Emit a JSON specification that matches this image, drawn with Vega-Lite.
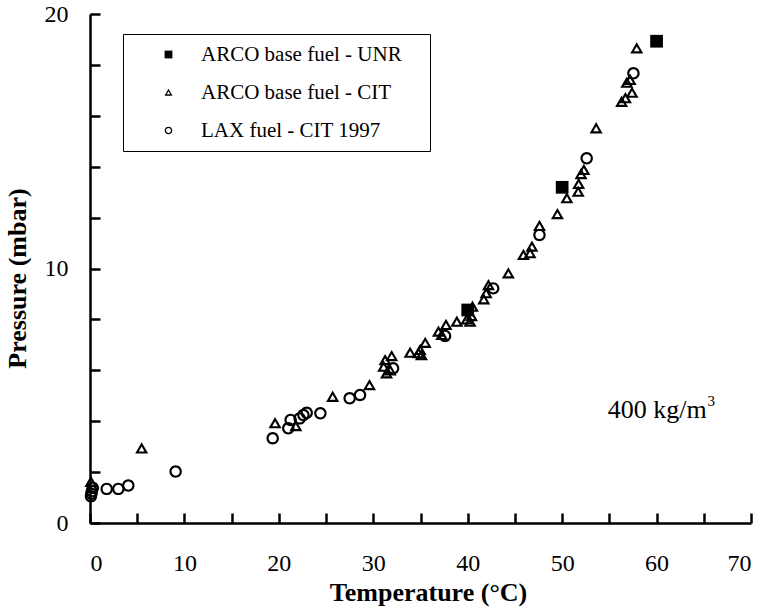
{
  "$schema": "https://vega.github.io/schema/vega-lite/v6.json",
  "width": 661,
  "height": 509,
  "autosize": "none",
  "padding": {"left": 90, "top": 14, "right": 14, "bottom": 88},
  "background": "white",
  "config": {
    "view": {"stroke": null},
    "font": "Liberation Serif",
    "axis": {
      "grid": false,
      "domainColor": "black",
      "domainWidth": 2.5,
      "tickColor": "black",
      "tickWidth": 2.5,
      "tickSize": -10,
      "labelFont": "Liberation Serif",
      "labelFontSize": 24,
      "labelColor": "black",
      "titleFont": "Liberation Serif",
      "titleFontSize": 26,
      "titleFontWeight": "bold",
      "titleColor": "black"
    },
    "legend": {
      "labelFont": "Liberation Serif",
      "labelFontSize": 21,
      "labelColor": "black",
      "labelLimit": 400,
      "padding": 10,
      "strokeColor": "black",
      "fillColor": "white",
      "labelOffset": 22,
      "symbolOffset": 25,
      "symbolSize": 75,
      "symbolFillColor": "black",
      "symbolStrokeWidth": 0,
      "rowPadding": 16
    }
  },
  "layer": [
    {
      "data": {
        "values": [
          {"T": 40.0, "P": 8.37, "series": "ARCO base fuel - UNR"},
          {"T": 50.0, "P": 13.19, "series": "ARCO base fuel - UNR"},
          {"T": 60.0, "P": 18.93, "series": "ARCO base fuel - UNR"},
          {"T": 0.1, "P": 1.62, "series": "ARCO base fuel - CIT"},
          {"T": 5.47, "P": 2.93, "series": "ARCO base fuel - CIT"},
          {"T": 19.6, "P": 3.92, "series": "ARCO base fuel - CIT"},
          {"T": 21.8, "P": 3.81, "series": "ARCO base fuel - CIT"},
          {"T": 25.7, "P": 4.96, "series": "ARCO base fuel - CIT"},
          {"T": 29.6, "P": 5.42, "series": "ARCO base fuel - CIT"},
          {"T": 31.95, "P": 6.56, "series": "ARCO base fuel - CIT"},
          {"T": 31.25, "P": 6.4, "series": "ARCO base fuel - CIT"},
          {"T": 31.1, "P": 6.14, "series": "ARCO base fuel - CIT"},
          {"T": 31.4, "P": 5.88, "series": "ARCO base fuel - CIT"},
          {"T": 31.8, "P": 6.0, "series": "ARCO base fuel - CIT"},
          {"T": 33.9, "P": 6.69, "series": "ARCO base fuel - CIT"},
          {"T": 34.96, "P": 6.8, "series": "ARCO base fuel - CIT"},
          {"T": 35.5, "P": 7.08, "series": "ARCO base fuel - CIT"},
          {"T": 35.1, "P": 6.6, "series": "ARCO base fuel - CIT"},
          {"T": 34.8, "P": 6.67, "series": "ARCO base fuel - CIT"},
          {"T": 36.9, "P": 7.52, "series": "ARCO base fuel - CIT"},
          {"T": 37.7, "P": 7.78, "series": "ARCO base fuel - CIT"},
          {"T": 37.25, "P": 7.39, "series": "ARCO base fuel - CIT"},
          {"T": 38.85, "P": 7.91, "series": "ARCO base fuel - CIT"},
          {"T": 39.9, "P": 8.0, "series": "ARCO base fuel - CIT"},
          {"T": 40.5, "P": 8.5, "series": "ARCO base fuel - CIT"},
          {"T": 40.4, "P": 8.13, "series": "ARCO base fuel - CIT"},
          {"T": 40.25, "P": 7.91, "series": "ARCO base fuel - CIT"},
          {"T": 41.7, "P": 8.79, "series": "ARCO base fuel - CIT"},
          {"T": 41.95, "P": 9.03, "series": "ARCO base fuel - CIT"},
          {"T": 42.2, "P": 9.35, "series": "ARCO base fuel - CIT"},
          {"T": 44.3, "P": 9.81, "series": "ARCO base fuel - CIT"},
          {"T": 45.9, "P": 10.53, "series": "ARCO base fuel - CIT"},
          {"T": 46.6, "P": 10.6, "series": "ARCO base fuel - CIT"},
          {"T": 46.8, "P": 10.86, "series": "ARCO base fuel - CIT"},
          {"T": 47.6, "P": 11.67, "series": "ARCO base fuel - CIT"},
          {"T": 49.5, "P": 12.14, "series": "ARCO base fuel - CIT"},
          {"T": 50.5, "P": 12.76, "series": "ARCO base fuel - CIT"},
          {"T": 51.7, "P": 13.02, "series": "ARCO base fuel - CIT"},
          {"T": 51.75, "P": 13.32, "series": "ARCO base fuel - CIT"},
          {"T": 52.0, "P": 13.71, "series": "ARCO base fuel - CIT"},
          {"T": 52.3, "P": 13.87, "series": "ARCO base fuel - CIT"},
          {"T": 53.6, "P": 15.51, "series": "ARCO base fuel - CIT"},
          {"T": 56.3, "P": 16.55, "series": "ARCO base fuel - CIT"},
          {"T": 56.7, "P": 16.69, "series": "ARCO base fuel - CIT"},
          {"T": 57.4, "P": 16.91, "series": "ARCO base fuel - CIT"},
          {"T": 56.85, "P": 17.3, "series": "ARCO base fuel - CIT"},
          {"T": 57.2, "P": 17.41, "series": "ARCO base fuel - CIT"},
          {"T": 57.9, "P": 18.65, "series": "ARCO base fuel - CIT"},
          {"T": 0.1, "P": 1.05, "series": "LAX fuel - CIT 1997"},
          {"T": 0.15, "P": 1.15, "series": "LAX fuel - CIT 1997"},
          {"T": 0.2, "P": 1.25, "series": "LAX fuel - CIT 1997"},
          {"T": 0.3, "P": 1.38, "series": "LAX fuel - CIT 1997"},
          {"T": 1.77, "P": 1.34, "series": "LAX fuel - CIT 1997"},
          {"T": 3.0, "P": 1.34, "series": "LAX fuel - CIT 1997"},
          {"T": 4.06, "P": 1.47, "series": "LAX fuel - CIT 1997"},
          {"T": 9.07, "P": 2.02, "series": "LAX fuel - CIT 1997"},
          {"T": 19.35, "P": 3.33, "series": "LAX fuel - CIT 1997"},
          {"T": 21.0, "P": 3.72, "series": "LAX fuel - CIT 1997"},
          {"T": 21.25, "P": 4.05, "series": "LAX fuel - CIT 1997"},
          {"T": 22.2, "P": 4.11, "series": "LAX fuel - CIT 1997"},
          {"T": 22.6, "P": 4.24, "series": "LAX fuel - CIT 1997"},
          {"T": 22.95, "P": 4.33, "series": "LAX fuel - CIT 1997"},
          {"T": 24.4, "P": 4.31, "series": "LAX fuel - CIT 1997"},
          {"T": 27.5, "P": 4.9, "series": "LAX fuel - CIT 1997"},
          {"T": 28.6, "P": 5.03, "series": "LAX fuel - CIT 1997"},
          {"T": 32.1, "P": 6.08, "series": "LAX fuel - CIT 1997"},
          {"T": 37.6, "P": 7.35, "series": "LAX fuel - CIT 1997"},
          {"T": 42.7, "P": 9.22, "series": "LAX fuel - CIT 1997"},
          {"T": 47.6, "P": 11.32, "series": "LAX fuel - CIT 1997"},
          {"T": 52.6, "P": 14.33, "series": "LAX fuel - CIT 1997"},
          {"T": 57.55, "P": 17.67, "series": "LAX fuel - CIT 1997"}
        ]
      },
      "mark": {"type": "point", "filled": true, "color": "black", "strokeWidth": 0, "opacity": 1, "size": 200},
      "encoding": {
        "x": {
          "field": "T", "type": "quantitative",
          "scale": {"domain": [0, 70], "nice": false, "zero": false},
          "axis": {
            "title": "Temperature (°C)",
            "values": [0, 5, 10, 15, 20, 25, 30, 35, 40, 45, 50, 55, 60, 65, 70],
            "labelExpr": "datum.value % 10 === 0 ? datum.label : ''",
            "tickSize": -10,
            "labelPadding": 38,
            "titlePadding": 4,
            "titleX": 338
          }
        },
        "y": {
          "field": "P", "type": "quantitative",
          "scale": {"domain": [0, 20], "nice": false, "zero": false},
          "axis": {
            "title": "Pressure (mbar)",
            "values": [0, 1, 2, 3, 4, 5, 6, 7, 8, 9, 10, 11, 12, 13, 14, 15, 16, 17, 18, 19, 20],
            "labelExpr": "datum.value % 5 === 0 ? datum.label : ''",
            "tickSize": -10,
            "labelPadding": 32,
            "titlePadding": 14,
            "titleY": 264
          }
        },
        "shape": {
          "field": "series", "type": "nominal",
          "scale": {
            "domain": ["ARCO base fuel - UNR", "ARCO base fuel - CIT", "LAX fuel - CIT 1997"],
            "range": [
              "M-0.9,-0.9L0.9,-0.9L0.9,0.9L-0.9,0.9Z",
              "M0,-0.87L0.92,0.723L-0.92,0.723Z M0,-0.27L-0.4,0.423L0.4,0.423Z",
              "M0.88,0A0.88,0.88,0,1,1,-0.88,0A0.88,0.88,0,1,1,0.88,0Z M0.58,0A0.58,0.58,0,1,0,-0.58,0A0.58,0.58,0,1,0,0.58,0Z"
            ]
          },
          "legend": {
            "title": "\u00a0",
            "titleOrient": "right",
            "titlePadding": 18,
            "titleFontSize": 10,
            "orient": "none",
            "legendX": 33,
            "legendY": 20
          }
        }
      }
    },
    {
      "data": {"values": [{"T": 65.3, "P": 4.11, "main": "400 kg/m", "sup": "3"}]},
      "layer": [
        {
          "mark": {"type": "text", "align": "right", "baseline": "alphabetic", "font": "Liberation Serif", "fontSize": 26, "color": "black"},
          "encoding": {
            "x": {"field": "T", "type": "quantitative"},
            "y": {"field": "P", "type": "quantitative"},
            "text": {"field": "main"}
          }
        },
        {
          "mark": {"type": "text", "align": "left", "baseline": "alphabetic", "font": "Liberation Serif", "fontSize": 15, "color": "black", "dx": 1, "dy": -12},
          "encoding": {
            "x": {"field": "T", "type": "quantitative"},
            "y": {"field": "P", "type": "quantitative"},
            "text": {"field": "sup"}
          }
        }
      ]
    }
  ]
}
